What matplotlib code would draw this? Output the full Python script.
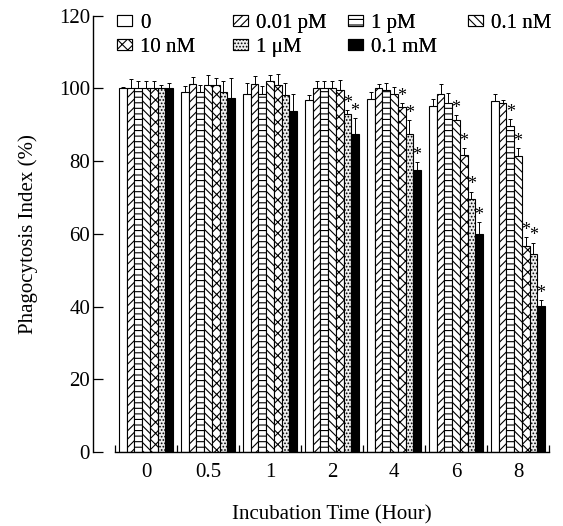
import matplotlib
matplotlib.use("Agg")
import matplotlib.pyplot as plt
import numpy as np

plt.rcParams['font.family'] = ['Liberation Serif', 'DejaVu Serif']
plt.rcParams['hatch.linewidth'] = 0.8

times = ['0', '0.5', '1', '2', '4', '6', '8']
conc_labels = ['0', '0.01 pM', '1 pM', '0.1 nM', '10 nM', '1 μM', '0.1 mM']

v_0      = [100.0, 99.1, 98.6, 96.8, 97.0, 95.2, 96.6]
v_001pM  = [100.0, 101.2, 101.1, 100.2, 100.0, 98.6, 95.9]
v_1pM    = [100.0, 98.9, 98.4, 100.2, 99.6, 95.9, 89.7]
v_01nM   = [100.0, 100.9, 102.0, 100.0, 98.6, 91.3, 81.5]
v_10nM   = [100.0, 100.9, 101.0, 99.7, 94.8, 81.7, 56.7]
v_1uM    = [100.0, 99.1, 98.2, 92.9, 87.6, 69.5, 54.4]
v_01mM   = [100.0, 97.4, 93.8, 87.5, 77.6, 59.9, 40.2]

e_0      = [0.5, 1.6, 3.0, 1.4, 2.1, 1.8, 1.8]
e_001pM  = [2.6, 2.0, 2.3, 1.8, 1.2, 2.5, 0.9]
e_1pM    = [2.0, 2.1, 2.3, 1.8, 2.0, 2.9, 1.8]
e_01nM   = [2.0, 2.8, 1.7, 2.0, 1.7, 1.4, 2.0]
e_10nM   = [2.0, 2.0, 2.9, 2.6, 1.1, 1.8, 2.3]
e_1uM    = [1.0, 2.9, 3.2, 1.1, 3.7, 2.1, 3.2]
e_01mM   = [1.5, 5.4, 4.8, 4.3, 2.2, 3.4, 1.6]

# significance stars (1 = marked with *)
s_0      = [0, 0, 0, 0, 0, 0, 0]
s_001pM  = [0, 0, 0, 0, 0, 0, 0]
s_1pM    = [0, 0, 0, 0, 0, 0, 1]
s_01nM   = [0, 0, 0, 0, 0, 1, 1]
s_10nM   = [0, 0, 0, 0, 1, 1, 1]
s_1uM    = [0, 0, 0, 1, 1, 1, 1]
s_01mM   = [0, 0, 0, 1, 1, 1, 1]

values = [v_0, v_001pM, v_1pM, v_01nM, v_10nM, v_1uM, v_01mM]
errors = [e_0, e_001pM, e_1pM, e_01nM, e_10nM, e_1uM, e_01mM]
stars = [s_0, s_001pM, s_1pM, s_01nM, s_10nM, s_1uM, s_01mM]

styles = [
    dict(facecolor='white', hatch=None),
    dict(facecolor='white', hatch='////'),
    dict(facecolor='white', hatch='---'),
    dict(facecolor='white', hatch='\\\\\\\\'),
    dict(facecolor='white', hatch='xxx'),
    dict(facecolor='#eeeeee', hatch='.....'),
    dict(facecolor='black', hatch=None),
]

fig = plt.figure(figsize=(5.63, 5.26), dpi=100)
ax = fig.add_axes([115/563, (526-452)/526, (549-115)/563, (452-15.7)/526])

n = len(values)
w = 0.124
x = np.arange(len(times))
handles = []
for i in range(n):
    pos = x + (i - (n - 1) / 2) * w
    b = ax.bar(pos, values[i], width=w, color=styles[i]['facecolor'],
               hatch=styles[i]['hatch'], edgecolor='black', linewidth=0.8,
               label=conc_labels[i], zorder=2)
    handles.append(b)
    ax.errorbar(pos, values[i], yerr=[np.zeros(len(times)), errors[i]],
                fmt='none', ecolor='black', elinewidth=0.7, capsize=1.5,
                capthick=0.7, zorder=3)
    for j in range(len(times)):
        if stars[i][j]:
            ax.text(pos[j], values[i][j] + errors[i][j] - 0.5, '*',
                    ha='center', va='bottom', fontsize=13, zorder=4)

ax.set_xlim(-0.5, len(times) - 0.5)
ax.set_ylim(0, 120)
ax.set_yticks(np.arange(0, 121, 20))
ax.set_xticks(x)
ax.set_xticklabels(times)
ax.set_xticks(np.arange(-0.5, len(times) - 0.4, 1), minor=True)
ax.tick_params(axis='x', which='major', length=0, labelsize=15, pad=8)
ax.tick_params(axis='x', which='minor', length=5, direction='in', width=0.9)
ax.tick_params(axis='y', which='major', length=7, direction='in', width=0.9,
               labelsize=15, pad=2)

for s in ['top', 'right']:
    ax.spines[s].set_visible(False)
ax.spines['left'].set_position(('outward', 16))
ax.spines['left'].set_linewidth(1.0)
ax.spines['bottom'].set_linewidth(1.0)

ax.set_ylabel('Phagocytosis Index (%)', fontsize=15, labelpad=15)
ax.set_xlabel('Incubation Time (Hour)', fontsize=15, labelpad=17)

# legend: four columns placed as in the reference
col_x = [117, 233, 348, 468]
cols = [[0, 4], [1, 5], [2, 6], [3]]
for cx, idxs in zip(col_x, cols):
    leg = fig.legend([handles[k] for k in idxs], [conc_labels[k] for k in idxs],
                     loc='upper left', bbox_to_anchor=(cx / 563, 1 - 14 / 526),
                     frameon=False, fontsize=15, handlelength=0.7,
                     handleheight=0.4, handletextpad=0.4, labelspacing=0.25,
                     borderpad=0, borderaxespad=0)
    fig.add_artist(leg)

fig.savefig('out.png', dpi=100)
